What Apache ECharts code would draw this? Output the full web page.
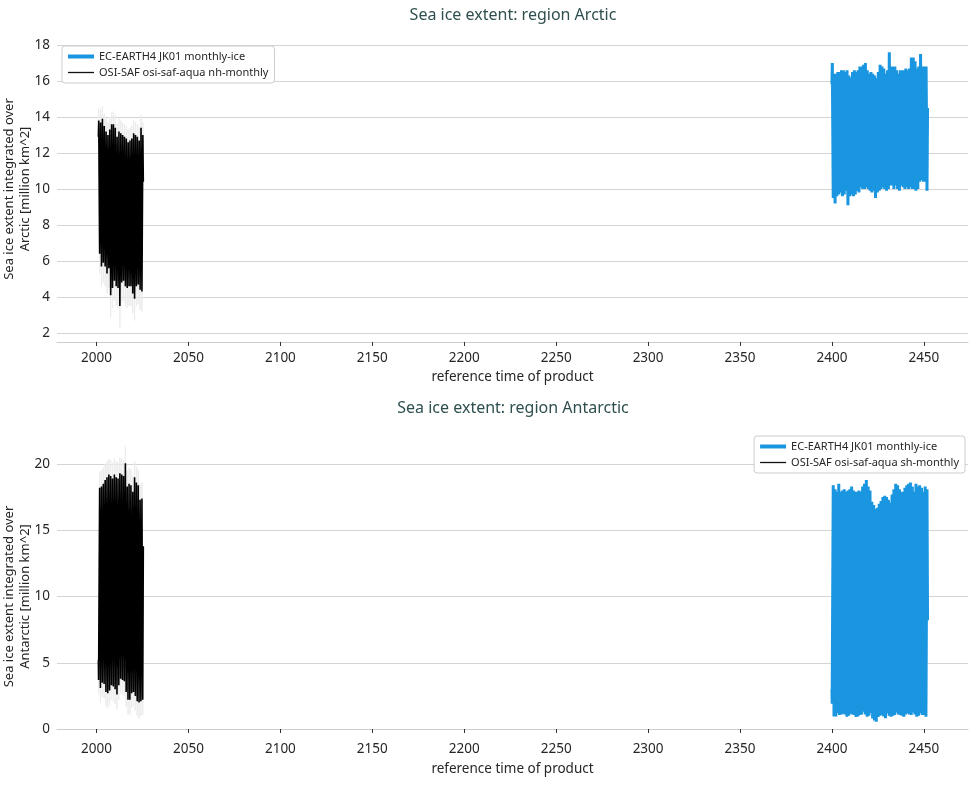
<!DOCTYPE html>
<html>
<head>
<meta charset="utf-8">
<script src="https://cdn.jsdelivr.net/npm/echarts@6/dist/echarts.min.js"></script>
<style>
html,body{margin:0;padding:0;background:#fff;}
#chart{width:977px;height:787px;}
</style>
</head>
<body>
<div id="chart"></div>
<script>
// ---------------- DATA ----------------
const xTicks = [2000, 2050, 2100, 2150, 2200, 2250, 2300, 2350, 2400, 2450];

// Arctic, OSI-SAF (observations): March maxima 2001-2025, September minima 2001-2024
const arcticOsiMax = [13.8, 13.7, 13.9, 13.5, 13.2, 13.0, 13.3, 13.6, 13.6, 13.4, 12.9, 13.2, 13.1,
  13.0, 12.9, 12.8, 12.6, 12.7, 12.8, 13.1, 13.0, 12.9, 12.7, 13.4, 13.0];
const arcticOsiMin = [6.4, 5.7, 5.9, 5.7, 5.3, 5.6, 4.1, 4.5, 4.9, 4.6, 4.5, 3.5, 4.8,
  4.9, 4.6, 4.5, 4.6, 4.6, 4.2, 3.9, 4.6, 4.7, 4.4, 4.3];
// uncertainty envelope (faint)
const arcticOsiBandHi = [14.5, 14.4, 14.6, 14.2, 13.9, 13.7, 14.0, 14.3, 14.3, 14.1, 13.6, 13.9, 13.8,
  13.7, 13.6, 13.5, 13.3, 13.4, 13.5, 13.8, 13.7, 13.6, 13.4, 14.1, 13.7];
const arcticOsiBandLo = [5.3, 4.6, 4.8, 4.6, 4.2, 4.5, 2.9, 3.4, 3.8, 3.5, 3.4, 2.3, 3.7,
  3.8, 3.5, 3.4, 3.5, 3.5, 3.1, 2.7, 3.5, 3.6, 3.3, 3.2];

// Arctic, EC-EARTH4 JK01 (model): March maxima and September minima 2400-2451
const arcticEcMax = [17.0, 16.4, 16.4, 16.5, 16.5, 16.6, 16.6, 16.5, 16.6, 16.3, 16.2, 16.5, 16.6,
  16.5, 16.6, 16.8, 16.8, 16.9, 17.0, 16.6, 16.4, 16.5, 16.4, 16.3, 16.15, 16.5,
  16.9, 16.8, 16.7, 16.4, 16.6, 17.6, 16.8, 16.8, 16.8, 16.6, 16.4, 16.6, 16.6,
  16.6, 16.7, 16.6, 16.7, 17.3, 17.3, 17.1, 16.7, 16.8, 17.5, 16.8, 16.8, 16.8];
const arcticEcMin = [9.5, 9.2, 9.6, 9.7, 9.8, 9.6, 9.7, 9.9, 9.1, 9.6, 9.7, 9.6, 9.7,
  9.9, 9.8, 10.1, 10.0, 10.0, 10.1, 10.0, 9.9, 9.8, 9.9, 9.5, 9.8, 9.9,
  10.0, 10.1, 10.0, 9.9, 10.0, 10.2, 10.2, 10.0, 10.2, 10.0, 9.9, 10.2, 10.1,
  10.0, 10.1, 10.0, 10.1, 10.0, 10.0, 9.9, 10.0, 10.4, 10.5, 10.4, 10.4, 9.9];

// Antarctic, OSI-SAF: February minima 2001-2025, September maxima 2001-2024
const antarcticOsiMin = [3.7, 3.1, 3.5, 3.4, 2.8, 2.7, 2.9, 3.3, 3.2, 3.0, 2.6, 3.3, 3.8,
  3.7, 3.6, 2.8, 2.2, 2.2, 2.7, 2.8, 2.5, 2.1, 2.0, 2.1, 2.2];
const antarcticOsiMax = [18.2, 18.3, 18.5, 18.8, 19.0, 19.2, 19.1, 18.9, 19.2, 19.0, 18.9, 19.3,
  19.2, 19.1, 20.05, 18.3, 18.5, 18.4, 17.9, 19.0, 18.6, 18.4, 17.3, 17.4];
const antarcticOsiBandLo = [2.6, 2.0, 2.4, 2.3, 1.7, 1.6, 1.8, 2.2, 2.1, 1.9, 1.5, 2.2, 2.7,
  2.6, 2.5, 1.7, 1.1, 1.1, 1.6, 1.7, 1.4, 1.0, 0.8, 1.0, 1.1];
const antarcticOsiBandHi = [19.4, 19.5, 19.7, 20.0, 20.2, 20.4, 20.3, 20.1, 20.4, 20.2, 20.1, 20.5,
  20.4, 20.3, 21.3, 19.5, 19.7, 19.6, 19.1, 20.2, 19.8, 19.6, 18.5, 18.6];

// Antarctic, EC-EARTH4 JK01: February minima and September maxima 2400-2451
const antarcticEcMin = [1.9, 0.95, 0.95, 1.2, 1.05, 1.1, 1.15, 1.1, 0.93, 1.0, 1.15, 1.1, 1.05,
  0.9, 0.95, 1.05, 1.1, 1.3, 1.1, 0.93, 1.0, 1.2, 0.8, 0.65, 0.55, 0.9,
  1.0, 1.06, 0.95, 0.81, 1.18, 1.0, 0.93, 1.0, 1.06, 1.25, 1.1, 1.06, 1.0,
  0.93, 1.1, 1.18, 1.1, 1.06, 1.25, 1.1, 0.93, 1.0, 1.18, 1.06, 1.06, 0.93];
const antarcticEcMax = [18.4, 18.1, 17.9, 18.5, 17.9, 18.0, 18.1, 17.9, 18.0, 18.1, 18.3, 18.0, 17.9,
  17.9, 18.0, 17.9, 18.3, 18.5, 18.8, 18.3, 18.0, 17.15, 16.9, 16.6, 16.7, 17.0,
  17.2, 17.5, 17.6, 17.5, 17.3, 17.1, 17.7, 18.1, 18.5, 18.4, 18.1, 17.9, 17.9,
  18.2, 18.4, 18.5, 18.6, 18.3, 17.9, 18.5, 18.3, 18.4, 18.2, 17.9, 18.3, 18.1];

// series start / end samples
const arcticOsiEnds = [[2001.0, 12.9], [2025.45, 10.4]];
const arcticEcEnds = [[2400.0, 15.8], [2452.0, 14.5]];
const antarcticOsiEnds = [[2001.0, 5.2], [2025.45, 13.8]];
const antarcticEcEnds = [[2400.0, 3.0], [2452.0, 8.2]];

const EC_NAME = 'EC-EARTH4 JK01 monthly-ice';
const OSI_NH_NAME = 'OSI-SAF osi-saf-aqua nh-monthly';
const OSI_SH_NAME = 'OSI-SAF osi-saf-aqua sh-monthly';

// ---------------- build point lists ----------------
// interleave extremes at their month of occurrence (fraction of year)
function seasonal(startYear, aArr, aFrac, bArr, bFrac, ends) {
  const pts = [ends[0]];
  aArr.forEach((v, i) => pts.push([startYear + i + aFrac, v]));
  bArr.forEach((v, i) => pts.push([startYear + i + bFrac, v]));
  pts.push(ends[1]);
  pts.sort((p, q) => p[0] - q[0]);
  return pts;
}
const arcticOsi = seasonal(2001, arcticOsiMax, 0.2, arcticOsiMin, 0.7, arcticOsiEnds);
const arcticOsiBand = seasonal(2001, arcticOsiBandHi, 0.2, arcticOsiBandLo, 0.7, arcticOsiEnds);
const arcticEc = seasonal(2400, arcticEcMax, 0.2, arcticEcMin, 0.7, arcticEcEnds);
const antarcticOsi = seasonal(2001, antarcticOsiMin, 0.12, antarcticOsiMax, 0.7, antarcticOsiEnds);
const antarcticOsiBand = seasonal(2001, antarcticOsiBandLo, 0.12, antarcticOsiBandHi, 0.7, antarcticOsiEnds);
const antarcticEc = seasonal(2400, antarcticEcMin, 0.12, antarcticEcMax, 0.7, antarcticEcEnds);

// ---------------- chart ----------------
const FONT = 'Noto Sans';
const TXT = '#262626';
const chart = echarts.init(document.getElementById('chart'), null, {renderer: 'canvas'});

function xAxisCfg(gridIndex, offset, labelMargin, nameGap) {
  return {
    type: 'value', gridIndex, min: 1978.5, max: 2474, offset,
    name: 'reference time of product', nameLocation: 'middle', nameGap, nameMoveOverlap: false,
    nameTextStyle: {fontFamily: FONT, fontSize: 13.5, color: TXT},
    axisLine: {show: true, lineStyle: {color: '#cccccc', width: 1.2}},
    axisTick: {show: true, length: 4, customValues: xTicks, lineStyle: {color: '#333', width: 1}},
    axisLabel: {customValues: xTicks, margin: labelMargin, fontFamily: FONT, fontSize: 13.5, color: TXT,
      formatter: v => String(Math.round(v))},
    splitLine: {show: false}
  };
}
function yAxisCfg(gridIndex, min, max, interval, name) {
  return {
    type: 'value', gridIndex, min, max, interval,
    name, nameLocation: 'middle', nameGap: 24, nameRotate: 90, nameMoveOverlap: false,
    nameTextStyle: {fontFamily: FONT, fontSize: 13, color: TXT, lineHeight: 16},
    axisLine: {show: false}, axisTick: {show: false},
    axisLabel: {margin: 7, fontFamily: FONT, fontSize: 13.5, color: TXT, formatter: v => String(v)},
    splitLine: {show: true, lineStyle: {color: '#d4d4d4', width: 1.2}}
  };
}
function lineSeries(name, data, idx, color, width, z) {
  return {
    type: 'line', name, data, xAxisIndex: idx, yAxisIndex: idx,
    symbol: 'none', showSymbol: false, clip: false, animation: false, z,
    lineStyle: {color, width}, itemStyle: {color}
  };
}
function legendCfg(pos, names) {
  return Object.assign({
    orient: 'vertical',
    data: [
      {name: names[0], lineStyle: {width: 4, color: '#1a96e0'}},
      {name: names[1], lineStyle: {width: 1.3, color: '#111'}}
    ],
    itemGap: 5, padding: [5, 6, 5, 4],
    itemWidth: 26, itemHeight: 12,
    backgroundColor: '#ffffff', borderColor: '#cccccc', borderWidth: 1, borderRadius: 3,
    textStyle: {fontFamily: FONT, fontSize: 11, color: TXT},
    itemStyle: {opacity: 0}, selectedMode: false
  }, pos);
}

const option = {
  backgroundColor: '#ffffff',
  animation: false,
  title: [
    {text: 'Sea ice extent: region Arctic', left: 513, top: 7, padding: 0, textAlign: 'center',
     textStyle: {fontFamily: FONT, fontSize: 16, fontWeight: 'normal', color: '#2f4f4f'}},
    {text: 'Sea ice extent: region Antarctic', left: 513, top: 400, padding: 0, textAlign: 'center',
     textStyle: {fontFamily: FONT, fontSize: 16, fontWeight: 'normal', color: '#2f4f4f'}}
  ],
  legend: [
    legendCfg({left: 62, top: 46}, [EC_NAME, OSI_NH_NAME]),
    legendCfg({right: 12, top: 436}, [EC_NAME, OSI_SH_NAME])
  ],
  grid: [
    {left: 57, right: 9, top: 45, height: 288, outerBoundsMode: 'none', containLabel: false},
    {left: 57, right: 9, top: 464, height: 265, outerBoundsMode: 'none', containLabel: false}
  ],
  xAxis: [xAxisCfg(0, 9, 9, 28), xAxisCfg(1, 6, 7, 27)],
  yAxis: [
    yAxisCfg(0, 2, 18, 2, 'Sea ice extent integrated over\nArctic [million km^2]'),
    yAxisCfg(1, 0, 20, 5, 'Sea ice extent integrated over\nAntarctic [million km^2]')
  ],
  series: [
    lineSeries('band-nh', arcticOsiBand, 0, '#ececec', 1, 1),
    lineSeries(EC_NAME, arcticEc, 0, '#1a96e0', 3, 3),
    lineSeries(OSI_NH_NAME, arcticOsi, 0, '#000000', 1.6, 2),
    lineSeries('band-sh', antarcticOsiBand, 1, '#ececec', 1, 1),
    lineSeries(EC_NAME, antarcticEc, 1, '#1a96e0', 3, 3),
    lineSeries(OSI_SH_NAME, antarcticOsi, 1, '#000000', 1.6, 2)
  ]
};
chart.setOption(option);
</script>
</body>
</html>
